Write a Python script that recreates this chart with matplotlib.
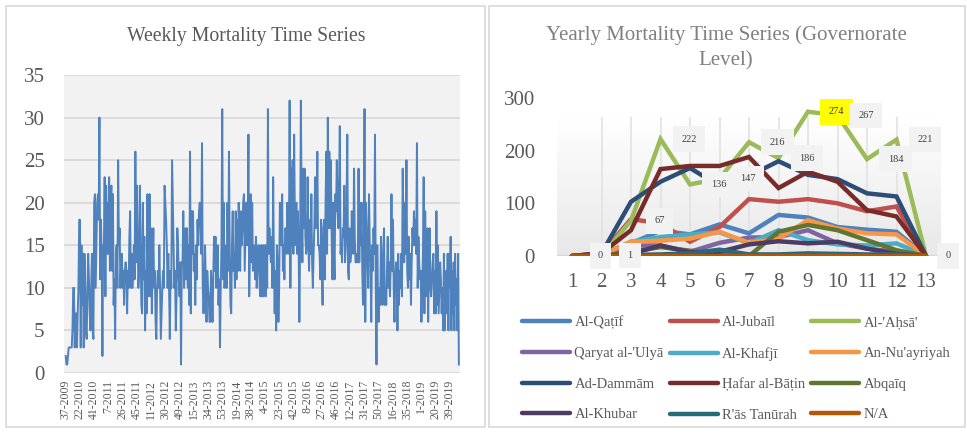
import numpy as np
import matplotlib.pyplot as plt
from matplotlib.patches import Rectangle
from matplotlib.colors import LinearSegmentedColormap

# weekly deaths, one value per week (37-2009 .. ~50-2019)
weekly_deaths = [
    2, 1, 1, 2, 3, 3, 3, 3, 3, 5, 10, 10, 3, 7, 7, 3, 7, 10, 18,
    18, 3, 15, 8, 14, 3, 14, 10, 5, 4, 10, 14, 11, 7, 5, 10, 14, 5, 4,
    20, 21, 10, 15, 20, 21, 18, 30, 11, 18, 14, 2, 15, 15, 23, 9, 22, 14, 20,
    14, 23, 12, 20, 22, 12, 21, 8, 11, 4, 14, 15, 10, 25, 15, 17, 10, 13, 14,
    10, 12, 8, 12, 13, 12, 7, 12, 10, 16, 19, 10, 14, 10, 12, 15, 11, 26, 13,
    22, 16, 10, 12, 22, 15, 8, 7, 20, 11, 16, 5, 12, 7, 21, 9, 13, 21, 9,
    17, 7, 13, 17, 10, 12, 6, 4, 10, 12, 10, 15, 10, 4, 7, 10, 12, 10, 22,
    20, 18, 15, 10, 14, 10, 4, 12, 10, 25, 20, 15, 10, 12, 5, 9, 17, 15, 11,
    9, 13, 1, 13, 13, 19, 10, 12, 17, 11, 17, 10, 15, 8, 26, 7, 19, 14, 19,
    12, 14, 8, 15, 11, 18, 15, 19, 20, 18, 14, 27, 10, 7, 10, 15, 11, 6, 12,
    10, 9, 6, 6, 12, 10, 6, 11, 16, 12, 16, 10, 12, 15, 8, 11, 3, 10, 15,
    31, 11, 20, 10, 12, 15, 10, 20, 12, 26, 14, 8, 7, 15, 19, 12, 14, 10, 19,
    11, 18, 12, 20, 14, 12, 19, 15, 17, 20, 21, 12, 16, 20, 15, 17, 28, 9, 14,
    21, 13, 20, 12, 15, 14, 11, 16, 10, 12, 15, 15, 10, 9, 15, 9, 15, 9, 15,
    15, 9, 15, 10, 31, 14, 17, 15, 13, 16, 10, 23, 13, 7, 12, 5, 15, 13, 6,
    10, 20, 18, 15, 21, 12, 15, 11, 17, 17, 14, 20, 15, 14, 32, 10, 24, 15, 25,
    14, 28, 18, 15, 20, 14, 19, 15, 6, 15, 32, 20, 13, 24, 17, 24, 16, 14, 15,
    23, 15, 12, 18, 14, 21, 13, 10, 14, 17, 23, 17, 18, 26, 15, 15, 14, 11, 18,
    12, 8, 17, 18, 11, 20, 26, 14, 30, 17, 26, 17, 25, 17, 11, 20, 15, 11, 21,
    19, 25, 19, 17, 22, 29, 14, 15, 13, 17, 16, 22, 13, 15, 20, 28, 12, 11, 17,
    13, 14, 19, 15, 14, 24, 16, 13, 13, 14, 13, 24, 13, 20, 15, 20, 12, 8, 14,
    31, 6, 20, 17, 13, 10, 21, 15, 13, 6, 15, 12, 17, 14, 28, 10, 1, 15, 9,
    6, 10, 8, 16, 11, 8, 14, 17, 8, 10, 8, 12, 16, 10, 13, 9, 13, 21, 12,
    18, 10, 6, 11, 13, 12, 5, 14, 8, 12, 10, 14, 9, 24, 16, 13, 20, 14, 25,
    12, 10, 16, 11, 14, 8, 13, 17, 15, 19, 15, 18, 14, 27, 10, 16, 13, 11, 12,
    6, 10, 14, 23, 7, 19, 12, 9, 17, 6, 13, 17, 10, 9, 11, 13, 14, 7, 12,
    7, 19, 8, 15, 7, 10, 13, 11, 7, 10, 5, 14, 5, 11, 12, 7, 14, 5, 14,
    10, 16, 5, 12, 7, 13, 5, 14, 8, 11, 5, 14, 1,
]
week_ticks = ['37-2009', '22-2010', '41-2010', '7-2011', '26-2011', '45-2011',
              '11-2012', '30-2012', '49-2012', '15-2013', '34-2013', '53-2013',
              '19-2014', '38-2014', '4-2015', '23-2015', '42-2015', '8-2016',
              '27-2016', '46-2016', '12-2017', '31-2017', '50-2017', '16-2018',
              '35-2018', '1-2019', '20-2019', '39-2019']

# yearly series per governorate
years = [1, 2, 3, 4, 5, 6, 7, 8, 9, 10, 11, 12, 13]
al_qatif = [0, 2, 24, 48, 41, 60, 43, 78, 73, 55, 50, 46, 0]
al_jubail = [0, 5, 70, 62, 27, 55, 108, 103, 108, 100, 85, 94, 0]
al_ahsa = [0, 1, 67, 222, 136, 147, 216, 186, 274, 267, 184, 221, 0]
qaryat = [0, 0, 20, 20, 8, 25, 35, 36, 49, 24, 14, 8, 0]
al_khafji = [0, 2, 27, 36, 41, 45, 24, 49, 30, 22, 20, 24, 0]
nuayriyah = [0, 2, 27, 29, 33, 46, 25, 33, 68, 52, 43, 41, 0]
dammam = [0, 5, 103, 141, 167, 133, 152, 180, 154, 146, 119, 113, 0]
hafar = [0, 5, 49, 165, 171, 171, 188, 129, 160, 141, 87, 75, 0]
abqaiq = [0, 0, 8, 17, 10, 5, 0, 46, 59, 49, 30, 11, 0]
al_khubar = [0, 0, 4, 20, 7, 8, 22, 28, 24, 27, 14, 4, 0]
ras_tanurah = [0, 0, 2, 3, 5, 12, 3, 3, 5, 4, 3, 3, 0]
unknown = [0, 0, 0, 0, 0, 0, 0, 0, 0, 0, 0, 0, 0]

names = ['Al-Qaṭīf', 'Al-Jubaīl', "Al-'Aḥsā'", "Qaryat al-'Ulyā", 'Al-Khafjī',
         "An-Nu'ayriyah", 'Ad-Dammām', 'Ḥafar al-Bāṭin', 'Abqaīq', 'Al-Khubar',
         "R'ās Tanūrah", 'N/A']
colors = ['#4f81bd', '#c0504d', '#9bbb59', '#8064a2', '#4bacc6', '#f79646',
          '#2c4d75', '#772c2a', '#5f7530', '#4d3b62', '#276a7c', '#b65708']
all_series = [al_qatif, al_jubail, al_ahsa, qaryat, al_khafji, nuayriyah,
              dammam, hafar, abqaiq, al_khubar, ras_tanurah, unknown]

plt.rcParams['font.family'] = ['Liberation Serif', 'DejaVu Serif']
W, H = 967, 436
fig = plt.figure(figsize=(W / 100, H / 100), dpi=100)

# panel frames
for x0, x1 in [(6, 485), (489, 965)]:
    fig.patches.append(Rectangle((x0 / W, 9 / H), (x1 - x0) / W, 421 / H,
                                 transform=fig.transFigure, fill=False,
                                 ec='#d9d9d9', lw=1.2))

# ---- left: weekly series
ax1 = fig.add_axes([64 / W, 63 / H, 396 / W, 298 / H])
ax1.set_facecolor('#f2f2f2')
ax1.plot(range(len(weekly_deaths)), weekly_deaths, color='#4f81bd', lw=1.4)
ax1.set_ylim(0, 35)
ax1.set_yticks(range(0, 36, 5))
ax1.set_xlim(-2.3, len(weekly_deaths) + 0.5)
ax1.set_xticks(range(0, len(weekly_deaths), 19))
ax1.set_xticklabels(week_ticks, rotation=90, fontsize=8.5, color='#595959')
ax1.grid(axis='y', color='#d9d9d9', lw=1.3)
ax1.set_axisbelow(True)
for s in ax1.spines.values():
    s.set_visible(False)
ax1.tick_params(axis='y', length=0, pad=14, labelsize=15, labelcolor='#595959')
ax1.tick_params(axis='x', length=0, pad=5)
fig.text(246 / W, 1 - 36 / H, 'Weekly Mortality Time Series', ha='center',
         va='center', fontsize=14.2, color='#595959')

# ---- right: yearly series per governorate
ax2 = fig.add_axes([557.25 / W, 180 / H, 383.5 / W, 158 / H])
grad = LinearSegmentedColormap.from_list('wall', ['#ffffff', '#e8e8e8'])
ax2.imshow(np.linspace(0, 1, 100).reshape(-1, 1), extent=[0.5, 13.5, 0, 263],
           aspect='auto', cmap=grad, zorder=0)
ax2.vlines(range(2, 13), 0, 263, color='#e2e2e2', lw=1.2, zorder=1)
ax2.axhline(0, color='#d9d9d9', lw=2.5, zorder=1)
lines = []
for vals, name, c in zip(all_series, names, colors):
    ln, = ax2.plot(years, vals, color=c, lw=3.2, solid_capstyle='round',
                   solid_joinstyle='miter', label=name, zorder=2)
    lines.append(ln)
for k, v in zip(years, al_ahsa):
    dx = 16 if k == 13 else 20.5
    fc = '#ffff00' if v == max(al_ahsa) else '#f2f2f2'
    ax2.annotate(str(v), (k, v), xytext=(dx, 0), textcoords='offset points',
                 ha='center', va='center', fontsize=7.5, color='#404040',
                 bbox=dict(boxstyle='square,pad=0.8', fc=fc, ec='none'),
                 zorder=5)
ax2.set_xlim(0.5, 13.5)
ax2.set_ylim(0, 300)
ax2.set_xticks(years)
ax2.set_yticks([0, 100, 200, 300])
for s in ax2.spines.values():
    s.set_visible(False)
ax2.tick_params(axis='y', length=0, pad=16, labelsize=15, labelcolor='#595959')
ax2.tick_params(axis='x', length=0, pad=12, labelsize=15, labelcolor='#595959')
fig.text(726 / W, 1 - 48 / H, 'Yearly Mortality Time Series (Governorate\nLevel)',
         ha='center', va='center', fontsize=15, color='#808080', linespacing=1.4)

order = [0, 3, 6, 9, 1, 4, 7, 10, 2, 5, 8, 11]
fig.legend([lines[i] for i in order], [names[i] for i in order], ncol=3,
           loc='upper left', bbox_to_anchor=(522 / W, 1 - 316 / H),
           frameon=False, fontsize=10.5, handlelength=3.3, handletextpad=0.3,
           columnspacing=0.4, labelspacing=1.2, borderaxespad=0, borderpad=0,
           labelcolor='#595959')

fig.savefig('out.png', dpi=100)
